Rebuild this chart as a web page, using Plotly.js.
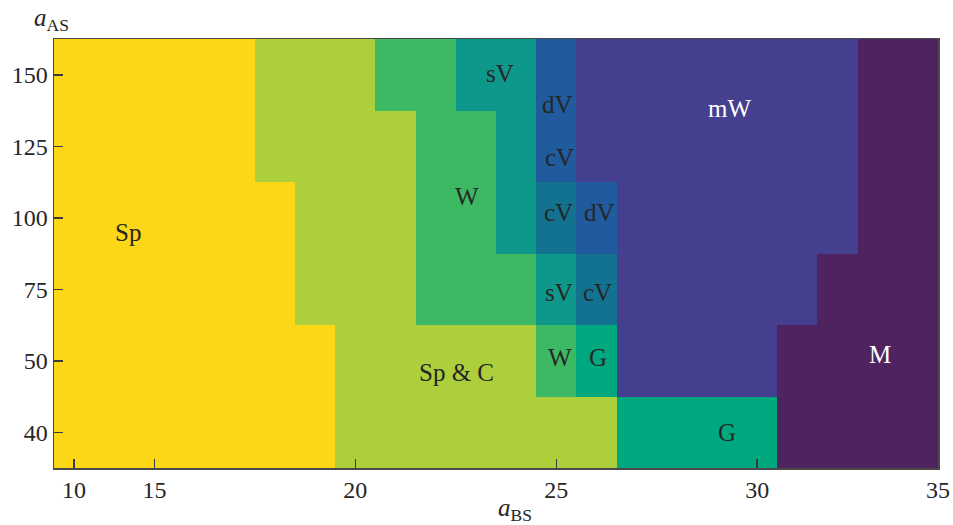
<!DOCTYPE html>
<html>
<head>
<meta charset="utf-8">
<script src="https://cdn.plot.ly/plotly-3.0.1.min.js"></script>
<style>
  html, body { margin: 0; padding: 0; background: #ffffff; }
  #chart { width: 953px; height: 525px; }
</style>
</head>
<body>
<div id="chart"></div>
<script>
// Phase codes and the colour used for each phase
const phases      = ['Sp', 'SpC', 'W', 'G', 'sV', 'cV', 'dV', 'mW', 'M'];
const phaseColors = ['#FCD716', '#ADCF3C', '#3DB964', '#00A87F', '#0E988C', '#127290', '#1F5B9D', '#443F8E', '#4E2360'];

// Axis tick labels
const yTickText = ['40', '50', '75', '100', '125', '150'];
const xTickPos  = [0, 2, 7, 12, 17, 21.5];
const xTickText = ['10', '15', '20', '25', '30', '35'];

// Phase of each cell, one row per a_AS value (left to right along a_BS)
const row40  = ['Sp','Sp','Sp','Sp','Sp','Sp','Sp','SpC','SpC','SpC','SpC','SpC','SpC','SpC','G','G','G','G','M','M','M','M'];
const row50  = ['Sp','Sp','Sp','Sp','Sp','Sp','Sp','SpC','SpC','SpC','SpC','SpC','W','G','mW','mW','mW','mW','M','M','M','M'];
const row75  = ['Sp','Sp','Sp','Sp','Sp','Sp','SpC','SpC','SpC','W','W','W','sV','cV','mW','mW','mW','mW','mW','M','M','M'];
const row100 = ['Sp','Sp','Sp','Sp','Sp','Sp','SpC','SpC','SpC','W','W','sV','cV','dV','mW','mW','mW','mW','mW','mW','M','M'];
const row125 = ['Sp','Sp','Sp','Sp','Sp','SpC','SpC','SpC','SpC','W','W','sV','dV','mW','mW','mW','mW','mW','mW','mW','M','M'];
const row150 = ['Sp','Sp','Sp','Sp','Sp','SpC','SpC','SpC','W','W','sV','sV','dV','mW','mW','mW','mW','mW','mW','mW','M','M'];

const rows = [row40, row50, row75, row100, row125, row150];
const z = rows.map(r => r.map(p => phases.indexOf(p)));

// Stepped colour scale: one flat band per phase
const n = phases.length;
const colorscale = [];
phaseColors.forEach((c, i) => {
  colorscale.push([i / n, c]);
  colorscale.push([(i + 1) / n, c]);
});

const serif = '"Liberation Serif", "Times New Roman", serif';
const dark = '#262626';

function lab(text, x, y, color) {
  return {
    text: text, x: x, y: y, xref: 'x', yref: 'y',
    showarrow: false,
    font: { family: serif, size: 25, color: color || dark }
  };
}

const annotations = [
  lab('Sp', 1.34, 2.80),
  lab('sV', 10.59, 5.02),
  lab('dV', 12.04, 4.58),
  lab('cV', 12.09, 3.84),
  lab('mW', 16.32, 4.53, '#ffffff'),
  lab('W', 9.77, 3.30),
  lab('cV', 12.06, 3.07),
  lab('dV', 13.08, 3.07),
  lab('sV', 12.06, 1.96),
  lab('cV', 13.03, 1.96),
  lab('M', 20.05, 1.09, '#ffffff'),
  lab('W', 12.09, 1.04),
  lab('G', 13.03, 1.04),
  lab('Sp &amp; C', 9.52, 0.83),
  lab('G', 16.24, 0.0),
  // axis titles
  {
    text: '<i>a</i><sub>AS</sub>', xref: 'paper', yref: 'paper', x: 0, y: 1,
    xanchor: 'center', yanchor: 'bottom', xshift: -3, yshift: 2,
    showarrow: false, font: { family: serif, size: 25, color: dark }
  },
  {
    text: '<i>a</i><sub>BS</sub>', xref: 'paper', yref: 'paper', x: 0.521, y: 0,
    xanchor: 'center', yanchor: 'middle', yshift: -41,
    showarrow: false, font: { family: serif, size: 25, color: dark }
  }
];

const trace = {
  type: 'heatmap',
  z: z,
  zmin: -0.5,
  zmax: n - 0.5,
  colorscale: colorscale,
  showscale: false,
  hoverinfo: 'skip'
};

const axisCommon = {
  showgrid: false,
  zeroline: false,
  showline: true,
  linecolor: '#4a4a4a',
  linewidth: 1.5,
  mirror: true,
  ticks: 'inside',
  ticklen: 9,
  tickwidth: 1.5,
  tickcolor: '#3a3a3a',
  tickfont: { family: serif, size: 24, color: dark },
  fixedrange: true
};

const layout = {
  width: 953,
  height: 525,
  margin: { l: 54, r: 15, t: 39, b: 57 },
  paper_bgcolor: '#ffffff',
  plot_bgcolor: '#ffffff',
  xaxis: Object.assign({}, axisCommon, {
    range: [-0.5, 21.5],
    tickmode: 'array',
    tickvals: xTickPos,
    ticktext: xTickText
  }),
  yaxis: Object.assign({}, axisCommon, {
    range: [-0.5, 5.5],
    tickmode: 'array',
    tickvals: yTickText.map((t, i) => i),
    ticktext: yTickText
  }),
  annotations: annotations,
  showlegend: false
};

Plotly.newPlot('chart', [trace], layout, { displayModeBar: false, staticPlot: true });
</script>
</body>
</html>
